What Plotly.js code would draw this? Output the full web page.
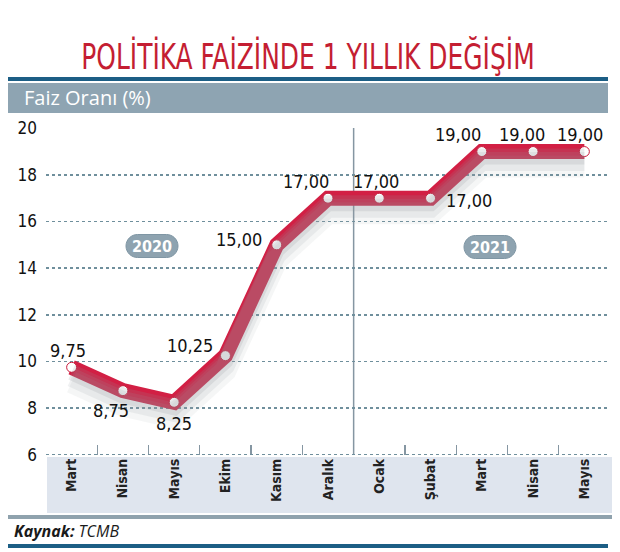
<!DOCTYPE html>
<html>
<head>
<meta charset="utf-8">
<script src="https://cdn.plot.ly/plotly-3.0.1.min.js"></script>
<style>
  html, body { margin: 0; padding: 0; background: #ffffff; }
  #chart { width: 620px; height: 552px; }
</style>
</head>
<body>
<div id="chart"></div>
<script>
// ---- data ----
const months = ["Mart", "Nisan", "Mayıs", "Ekim", "Kasım", "Aralık", "Ocak", "Şubat", "Mart", "Nisan", "Mayıs"];
const years  = ["2020", "2020", "2020", "2020", "2020", "2020", "2021", "2021", "2021", "2021", "2021"];
const rates  = [9.75, 8.75, 8.25, 10.25, 15.00, 17.00, 17.00, 17.00, 19.00, 19.00, 19.00];
const yTicks = [6, 8, 10, 12, 14, 16, 18, 20];
const titleText = "POLİTİKA FAİZİNDE 1 YILLIK DEĞİŞİM";
const unitText = "Faiz Oranı (%)";
const sourceText = "<b><i>Kaynak:</i></b><i> TCMB</i>";

// ---- styling / layout helpers ----
const W = 620, H = 552;
const L = 46, R = 10, T = 128, B = 82;
const PW = W - L - R, PH = H - T - B;
const px = x => (x - L) / PW;
const py = y => (H - B - y) / PH;
const axisBottom = py(455);

const xIdx = months.map((m, i) => i);
const labelText = rates.map(v => v.toFixed(2).replace(".", ","));
const labelShift = [[-4, 17], [-12, -20], [0, -21], [-35, 10], [-38, 5], [-22, 17],
                    [-3, 17], [38, -2], [-24, 17], [-11, 17], [-4, 17]];

const redLine = "#d21f44";
const condensed = "'DejaVu Sans Condensed', 'DejaVu Sans', sans-serif";
const boundary = years.indexOf("2021") - 0.5;

const shadowLayers = [
  { axis: "y4", color: "rgba(160,165,170,0.10)", width: 22 },
  { axis: "y3", color: "rgba(150,155,160,0.14)", width: 19 },
  { axis: "y2", color: "rgba(140,145,150,0.18)", width: 16 }
];
const traces = shadowLayers.map(s => ({
  x: xIdx, y: rates, yaxis: s.axis, mode: "lines", hoverinfo: "skip",
  line: { color: s.color, width: s.width }, showlegend: false
}));
traces.push({ x: xIdx, y: rates, mode: "lines+markers", hoverinfo: "skip",
  line: { color: redLine, width: 15 },
  marker: { color: "#ffffff", size: 10, line: { color: "#c91a3c", width: 1 } },
  showlegend: false });

const annotations = [
  { xref: "paper", yref: "paper", x: px(22), y: py(98), xanchor: "left", yanchor: "middle",
    text: unitText, showarrow: false, font: { family: "'Open Sans', sans-serif", size: 20, color: "#ffffff" } },
  { xref: "paper", yref: "paper", x: px(12), y: py(531), xanchor: "left", yanchor: "middle",
    text: sourceText, showarrow: false, font: { family: "'Open Sans', sans-serif", size: 16, color: "#1a1a1a" } },
  { xref: "paper", yref: "paper", x: px(152), y: py(246), xanchor: "center", yanchor: "middle",
    text: "<b>" + years[0] + "</b>", showarrow: false, font: { family: condensed, size: 16, color: "#ffffff" } },
  { xref: "paper", yref: "paper", x: px(490), y: py(247), xanchor: "center", yanchor: "middle",
    text: "<b>" + years[years.length - 1] + "</b>", showarrow: false, font: { family: condensed, size: 16, color: "#ffffff" } }
];
rates.forEach((v, i) => {
  annotations.push({
    x: i, y: v, xref: "x", yref: "y", text: labelText[i], showarrow: false,
    xanchor: "center", yanchor: "middle",
    xshift: labelShift[i][0], yshift: labelShift[i][1],
    font: { family: condensed, size: 18, color: "#111111" }
  });
});

function pill(xp, yp, w, h) {
  const r = h / 2, k = 0.5523 * r, a = w / 2 - r;
  const p = `M ${-a},${-r} L ${a},${-r} C ${a + k},${-r} ${a + r},${-k} ${a + r},0 ` +
            `C ${a + r},${k} ${a + k},${r} ${a},${r} L ${-a},${r} ` +
            `C ${-a - k},${r} ${-a - r},${k} ${-a - r},0 C ${-a - r},${-k} ${-a - k},${-r} ${-a},${-r} Z`;
  return { type: "path", xref: "paper", yref: "paper", xsizemode: "pixel", ysizemode: "pixel",
           xanchor: xp, yanchor: yp, path: p, fillcolor: "#8ea3b0",
           line: { color: "#7f96a4", width: 1 }, layer: "above" };
}

const shapes = [
  { type: "rect", xref: "paper", yref: "paper", x0: px(8), x1: px(608), y0: py(81), y1: py(77),
    fillcolor: "#1c5e85", line: { width: 0 } },
  { type: "rect", xref: "paper", yref: "paper", x0: px(8), x1: px(608), y0: py(113), y1: py(83),
    fillcolor: "#8ea4b2", line: { width: 0 } },
  { type: "rect", xref: "paper", yref: "paper", x0: px(47), x1: px(612), y0: py(513), y1: py(457),
    fillcolor: "#dfe5ee", line: { width: 0 }, layer: "below" },
  { type: "rect", xref: "paper", yref: "paper", x0: px(8), x1: px(612), y0: py(519), y1: py(515),
    fillcolor: "#8fa2ad", line: { width: 0 } },
  { type: "rect", xref: "paper", yref: "paper", x0: px(8), x1: px(608), y0: py(548), y1: py(544),
    fillcolor: "#1c5e85", line: { width: 0 } },
  { type: "line", xref: "paper", yref: "y", x0: 0, x1: 1, y0: yTicks[0], y1: yTicks[0],
    line: { color: "#6f8f9c", width: 1.5, dash: "dot" }, layer: "above" },
  { type: "line", xref: "x", yref: "paper", x0: boundary, x1: boundary, y0: axisBottom, y1: 1,
    line: { color: "#8596a2", width: 1.5 }, layer: "below" },
  pill(px(152), py(246), 52, 23),
  pill(px(490), py(247), 52, 23)
];

const yRange = [yTicks[0] - 0.01, yTicks[yTicks.length - 1] + 0.01];
const sh = [5, 10, 15].map(p => p / PH);
const layout = {
  width: W, height: H,
  margin: { l: L, r: R, t: T, b: B, pad: 0 },
  paper_bgcolor: "#ffffff", plot_bgcolor: "rgba(0,0,0,0)",
  showlegend: false,
  title: { text: titleText, x: 308 / W, xanchor: "center", y: 1 - 56 / H, yanchor: "middle",
           yref: "container", font: { family: condensed, size: 36, color: "#c41e32" } },
  xaxis: {
    type: "linear", range: [-0.5, months.length - 0.5],
    tickmode: "array", tickvals: xIdx, ticktext: months,
    tickangle: -90, showgrid: false, zeroline: false, showline: false,
    ticks: "", tickfont: { family: condensed, size: 14, color: "#222222", weight: "bold" },
    fixedrange: true
  },
  xaxis2: {
    overlaying: "x", range: [-0.5, months.length - 0.5], showgrid: false, zeroline: false,
    showticklabels: false, tickmode: "array", tickvals: xIdx.map(i => i - 0.5).concat([months.length - 0.5]),
    ticks: "inside", ticklen: 10, tickwidth: 1.2, tickcolor: "#8596a2", anchor: "y"
  },
  yaxis: {
    domain: [axisBottom, 1], range: yRange, tickmode: "array", tickvals: yTicks,
    showgrid: true, gridcolor: "#6f8f9c", griddash: "dot", gridwidth: 1.5,
    zeroline: false, showline: false, ticks: "", ticklabelstandoff: 8,
    tickfont: { family: condensed, size: 17, color: "#111111" }, fixedrange: true
  },
  yaxis2: { domain: [axisBottom - sh[0], 1 - sh[0]], range: yRange, visible: false, anchor: "x" },
  yaxis3: { domain: [axisBottom - sh[1], 1 - sh[1]], range: yRange, visible: false, anchor: "x" },
  yaxis4: { domain: [axisBottom - sh[2], 1 - sh[2]], range: yRange, visible: false, anchor: "x" },
  shapes: shapes,
  annotations: annotations
};

traces.push({ x: [0], y: [6], xaxis: "x2", yaxis: "y", mode: "markers",
              marker: { size: 0.1, color: "rgba(0,0,0,0)" }, hoverinfo: "skip", showlegend: false });

Plotly.newPlot("chart", traces, layout, { displayModeBar: false, staticPlot: true }).then(gd => {
  // condense the headline horizontally, like the narrow display face of the original
  const t = gd.querySelector(".g-gtitle text");
  if (t) {
    const cx = 308, sx = 0.77;
    t.setAttribute("transform", `translate(${cx},0) scale(${sx},1) translate(${-cx},0)`);
  }
});
</script>
</body>
</html>
